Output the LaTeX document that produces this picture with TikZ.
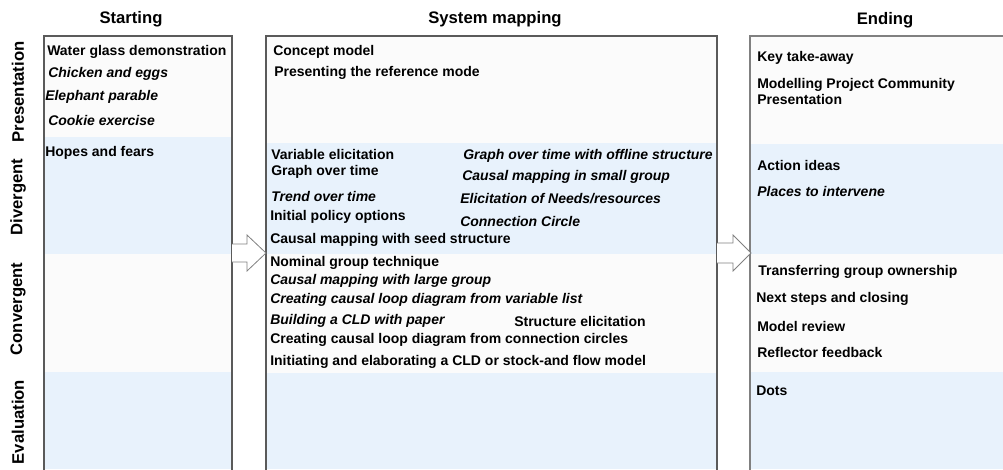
\documentclass[tikz,border=0pt]{standalone}
\usepackage{fontspec}
\setmainfont{Liberation Sans}
\usetikzlibrary{calc}
\definecolor{bandblue}{HTML}{E8F2FC}
\definecolor{bandwhite}{HTML}{FBFBFB}
\definecolor{boxline}{HTML}{5A5A5A}
\definecolor{arrline}{HTML}{808080}
\begin{document}
\begin{tikzpicture}[x=0.75pt,y=-0.75pt,
  item/.style={anchor=west, inner sep=0pt, font=\fontsize{10.5}{12}\selectfont\bfseries},
  itemit/.style={anchor=west, inner sep=0pt, font=\fontsize{10.5}{12}\selectfont\bfseries\itshape},
  header/.style={inner sep=0pt, font=\fontsize{12.5}{14}\selectfont\bfseries},
  rowlabel/.style={inner sep=0pt, rotate=90, font=\fontsize{12.5}{14}\selectfont\bfseries},
  frame/.style={draw=boxline, line width=0.8pt},
  blockarrow/.style={draw=arrline, fill=white, line width=0.6pt, line join=miter}]
\useasboundingbox (0,0) rectangle (1003,469);
\fill[white] (0,0) rectangle (1003,469);

% bands: Starting
\fill[bandwhite] (44,36) rectangle (232,137);
\fill[bandblue] (44,137) rectangle (232,254);
\fill[bandwhite] (44,254) rectangle (232,372);
\fill[bandblue] (44,372) rectangle (232,469);
% bands: System mapping
\fill[bandwhite] (266,36) rectangle (717,143);
\fill[bandblue] (266,143) rectangle (717,254);
\fill[bandwhite] (266,254) rectangle (717,373);
\fill[bandblue] (266,373) rectangle (717,469);
% bands: Ending
\fill[bandwhite] (750,36) rectangle (1003,144);
\fill[bandblue] (750,144) rectangle (1003,254);
\fill[bandwhite] (750,254) rectangle (1003,372);
\fill[bandblue] (750,372) rectangle (1003,469);

% column frames (open at the cut bottom)
\coordinate (sTL) at (44,36);  \coordinate (sTR) at (232,36);
\coordinate (mTL) at (266,36); \coordinate (mTR) at (717,36);
\coordinate (eTL) at (750,36); \coordinate (eTR) at (1004,36);
\draw[frame] (44,470) -- (sTL) -- (sTR) -- (232,470);
\draw[frame] (266,470) -- (mTL) -- (mTR) -- (717,470);
\draw[frame, draw=arrline] (750,470) -- (eTL) -- (eTR);

% headers
\node[header] (hS) at (131,19) {Starting};
\node[header] (hM) at (495,19) {System mapping};
\node[header] (hE) at (885,20) {Ending};

% row labels
\node[rowlabel] (rP) at (18,92) {Presentation};
\node[rowlabel] (rD) at (18,197) {Divergent};
\node[rowlabel] (rC) at (18,309) {Convergent};
\node[rowlabel] (rE) at (18,422) {Evaluation};

% block arrows
\coordinate (sR) at (232,253);
\coordinate (mL) at (266,253);
\coordinate (mR) at (717,253);
\coordinate (eL) at (751,253);
\draw[blockarrow] ($(sR)+(0,-9)$) -- ($(sR)+(15,-9)$) -- ($(sR)+(15,-18)$) -- (mL)
   -- ($(sR)+(15,18)$) -- ($(sR)+(15,9)$) -- ($(sR)+(0,9)$);
\draw[blockarrow] ($(mR)+(0,-10)$) -- ($(mR)+(16,-10)$) -- ($(mR)+(16,-18)$) -- (eL)
   -- ($(mR)+(16,18)$) -- ($(mR)+(16,10)$) -- ($(mR)+(0,10)$);

% Starting items
\node[item]   (s1) at (47,52)  {Water glass demonstration};
\node[itemit] (s2) at (48,74)  {Chicken and eggs};
\node[itemit] (s3) at (45,97)  {Elephant parable};
\node[itemit] (s4) at (48,120) {Cookie exercise};
\node[item]   (s5) at (45,153) {Hopes and fears};

% System mapping items
\node[item]   (m1)  at (273,52)  {Concept model};
\node[item]   (m2)  at (274,73)  {Presenting the reference mode};
\node[item]   (m3)  at (271,154) {Variable elicitation};
\node[item]   (m4)  at (271,172) {Graph over time};
\node[itemit] (m5)  at (271,196) {Trend over time};
\node[item]   (m6)  at (270,217) {Initial policy options};
\node[item]   (m7)  at (270,240) {Causal mapping with seed structure};
\node[itemit] (m8)  at (463,156) {Graph over time with offline structure};
\node[itemit] (m9)  at (462,177) {Causal mapping in small group};
\node[itemit] (m10) at (460,199) {Elicitation of Needs/resources};
\node[itemit] (m11) at (460,221) {Connection Circle};
\node[item]   (m12) at (270,263) {Nominal group technique};
\node[itemit] (m13) at (270,281) {Causal mapping with large group};
\node[itemit] (m14) at (270,300) {Creating causal loop diagram from variable list};
\node[itemit] (m15) at (270,321) {Building a CLD with paper};
\node[item]   (m16) at (514,321) {Structure elicitation};
\node[item]   (m17) at (270,340) {Creating causal loop diagram from connection circles};
\node[item]   (m18) at (270,362) {Initiating and elaborating a CLD or stock-and flow model};

% Ending items
\node[item]   (e1) at (757,58)  {Key take-away};
\node[item, align=left, font=\fontsize{10.5}{12}\selectfont\bfseries] (e2) at (757,91) {Modelling Project Community\\Presentation};
\node[item]   (e3) at (757,165) {Action ideas};
\node[itemit] (e4) at (757,191) {Places to intervene};
\node[item]   (e5) at (758,272) {Transferring group ownership};
\node[item]   (e6) at (756,299) {Next steps and closing};
\node[item]   (e7) at (757,326) {Model review};
\node[item]   (e8) at (757,352) {Reflector feedback};
\node[item]   (e9) at (756,391) {Dots};
\end{tikzpicture}
\end{document}
